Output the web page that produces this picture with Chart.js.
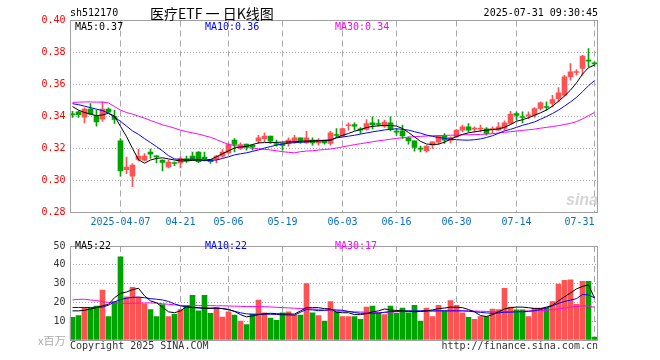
<!DOCTYPE html>
<html><head><meta charset="utf-8">
<script src="https://cdn.jsdelivr.net/npm/chart.js@4.4.1/dist/chart.umd.min.js"></script>
<style>
html,body{margin:0;padding:0;background:#fff;}
#wrap{position:relative;width:660px;height:360px;overflow:hidden;background:#fff;}
canvas{position:absolute;left:0;}
.t{position:absolute;white-space:pre;font-family:"DejaVu Sans Mono",monospace;font-size:10px;line-height:12px;}
</style></head><body>
<div id="wrap">
<canvas id="k" width="660" height="236" style="top:0px"></canvas>
<canvas id="v" width="660" height="124" style="top:236px"></canvas>
<div class="t" style="left:70px;top:7px;color:#000">sh512170</div>
<div class="t" style="left:150px;top:4px;font-family:'Noto Sans CJK SC';font-size:14px;line-height:18px;color:#000">医疗ETF 一 日K线图</div>
<div class="t" style="right:62px;top:7px;color:#000">2025-07-31 09:30:45</div>
<div class="t" id="l1" style="left:75px;top:21px;color:#000"></div>
<div class="t" id="l2" style="left:205px;top:21px;color:#0000ff"></div>
<div class="t" id="l3" style="left:335px;top:21px;color:#ff00ff"></div>
<div class="t" id="v1" style="left:75px;top:240px;color:#000"></div>
<div class="t" id="v2" style="left:205px;top:240px;color:#0000ff"></div>
<div class="t" id="v3" style="left:335px;top:240px;color:#ff00ff"></div>
<div class="t" style="left:38px;top:334px;font-family:'Noto Sans CJK SC';font-size:11px;line-height:13px;color:#aaa">x百万</div>
<div class="t" style="left:70px;top:340px;color:#333">Copyright 2025 SINA.COM</div>
<div class="t" style="right:62px;top:340px;color:#333">http://finance.sina.com.cn</div>
<div class="t" style="left:566px;top:191px;font-family:'Liberation Sans';font-style:italic;font-weight:bold;font-size:16px;line-height:18px;color:#d4d4d4">sina</div>
</div>
<script>
const dates = ['2025-03-25','2025-03-26','2025-03-27','2025-03-28','2025-03-31','2025-04-01','2025-04-02','2025-04-03',
'2025-04-07','2025-04-08','2025-04-09','2025-04-10','2025-04-11','2025-04-14','2025-04-15','2025-04-16','2025-04-17','2025-04-18',
'2025-04-21','2025-04-22','2025-04-23','2025-04-24','2025-04-25','2025-04-28','2025-04-29','2025-04-30',
'2025-05-06','2025-05-07','2025-05-08','2025-05-09','2025-05-12','2025-05-13','2025-05-14','2025-05-15','2025-05-16',
'2025-05-19','2025-05-20','2025-05-21','2025-05-22','2025-05-23','2025-05-26','2025-05-27','2025-05-28','2025-05-29','2025-05-30',
'2025-06-03','2025-06-04','2025-06-05','2025-06-06','2025-06-09','2025-06-10','2025-06-11','2025-06-12','2025-06-13',
'2025-06-16','2025-06-17','2025-06-18','2025-06-19','2025-06-20','2025-06-23','2025-06-24','2025-06-25','2025-06-26','2025-06-27',
'2025-06-30','2025-07-01','2025-07-02','2025-07-03','2025-07-04','2025-07-07','2025-07-08','2025-07-09','2025-07-10','2025-07-11',
'2025-07-14','2025-07-15','2025-07-16','2025-07-17','2025-07-18','2025-07-21','2025-07-22','2025-07-23','2025-07-24','2025-07-25',
'2025-07-28','2025-07-29','2025-07-30','2025-07-31'];

const tickDates  = ['2025-04-07','2025-04-21','2025-05-06','2025-05-19','2025-06-03','2025-06-16','2025-06-30','2025-07-14','2025-07-31'];
const tickLabels = ['2025-04-07','04-21','05-06','05-19','06-03','06-16','06-30','07-14','07-31     '];
const priceTicks = [0.28,0.30,0.32,0.34,0.36,0.38,0.40];
const volTicks = [10,20,30,40,50];

const open = [.3413,.3429,.3396,.3446,.3406,.3383,.3446,.3400,.3248,.3067,.3027,.3131,.3127,.3177,.3152,.3127,.3085,.3108,.3110,.3135,
.3152,.3177,.3146,.3131,.3131,.3152,.3173,.3252,.3200,.3227,.3221,.3246,.3262,.3277,.3231,.3231,.3231,.3246,.3267,.3235,
.3252,.3235,.3252,.3231,.3285,.3279,.3342,.3350,.3323,.3319,.3360,.3353,.3340,.3360,.3306,.3310,.3265,.3248,.3198,.3185,
.3221,.3240,.3279,.3250,.3273,.3315,.3335,.3321,.3321,.3323,.3319,.3315,.3325,.3356,.3419,.3396,.3404,.3408,.3450,.3460,
.3481,.3512,.3533,.3648,.3675,.3700,.3750,.3733];
const high = [.3433,.3436,.3454,.3481,.3440,.3491,.3454,.3440,.3262,.3146,.3106,.3196,.3169,.3196,.3155,.3129,.3127,.3117,.3148,.3152,
.3177,.3180,.3177,.3131,.3158,.3194,.3235,.3262,.3235,.3227,.3225,.3283,.3298,.3277,.3252,.3231,.3267,.3283,.3267,.3308,
.3267,.3262,.3252,.3308,.3325,.3329,.3360,.3360,.3331,.3381,.3398,.3381,.3377,.3398,.3325,.3346,.3273,.3248,.3215,.3219,
.3242,.3283,.3294,.3273,.3319,.3346,.3356,.3335,.3346,.3331,.3335,.3362,.3373,.3433,.3429,.3429,.3429,.3456,.3491,.3491,
.3533,.3581,.3658,.3731,.3694,.3783,.3825,.3742];
const low = [.3394,.3394,.3360,.3413,.3339,.3370,.3425,.3356,.3027,.3042,.2961,.3123,.3123,.3138,.3110,.3060,.3079,.3092,.3079,.3113,
.3127,.3112,.3123,.3106,.3110,.3144,.3169,.3179,.3194,.3190,.3190,.3231,.3242,.3231,.3215,.3190,.3215,.3231,.3231,.3231,
.3221,.3221,.3227,.3221,.3273,.3273,.3315,.3315,.3294,.3315,.3323,.3340,.3331,.3310,.3281,.3263,.3227,.3183,.3179,.3177,
.3200,.3227,.3231,.3235,.3267,.3304,.3304,.3304,.3304,.3283,.3294,.3315,.3315,.3352,.3377,.3360,.3387,.3394,.3440,.3440,
.3460,.3491,.3527,.3627,.3658,.3658,.3710,.3714];
const close = [.3410,.3412,.3446,.3415,.3366,.3446,.3427,.3381,.3060,.3084,.3096,.3152,.3152,.3165,.3148,.3113,.3115,.3106,.3137,.3123,
.3133,.3118,.3135,.3118,.3152,.3177,.3225,.3225,.3225,.3210,.3210,.3267,.3277,.3246,.3225,.3219,.3252,.3267,.3246,.3267,
.3235,.3252,.3235,.3298,.3281,.3325,.3348,.3340,.3315,.3356,.3348,.3350,.3365,.3319,.3302,.3279,.3248,.3206,.3196,.3215,
.3242,.3279,.3252,.3268,.3315,.3335,.3315,.3325,.3325,.3294,.3323,.3335,.3360,.3415,.3406,.3394,.3410,.3450,.3485,.3456,
.3506,.3548,.3648,.3679,.3679,.3777,.3746,.3729];

const ma5 = [.3462,.3440,.3425,.3415,.3405,.3410,.3420,.3403,.3338,.3275,.3200,.3130,.3108,.3128,.3138,.3142,.3135,.3128,.3122,.3123,
.3125,.3128,.3128,.3131,.3148,.3168,.3185,.3203,.3209,.3213,.3225,.3235,.3237,.3237,.3238,.3240,.3241,.3242,.3245,.3247,
.3248,.3249,.3250,.3253,.3269,.3282,.3294,.3308,.3318,.3331,.3338,.3342,.3344,.3344,.3340,.3325,.3300,.3272,.3245,.3228,
.3225,.3227,.3240,.3258,.3275,.3288,.3298,.3304,.3310,.3315,.3318,.3322,.3333,.3350,.3370,.3380,.3392,.3408,.3423,.3440,
.3465,.3495,.3528,.3565,.3610,.3665,.3705,.3722];
const ma10 = [.3480,.3474,.3465,.3455,.3446,.3437,.3420,.3395,.3370,.3340,.3310,.3288,.3262,.3237,.3212,.3185,.3155,.3135,.3132,.3132,
.3133,.3131,.3124,.3126,.3128,.3138,.3148,.3160,.3167,.3173,.3182,.3191,.3203,.3212,.3221,.3228,.3233,.3237,.3239,.3241,
.3245,.3247,.3250,.3252,.3266,.3272,.3277,.3283,.3290,.3297,.3304,.3310,.3316,.3320,.3323,.3320,.3315,.3305,.3296,.3284,
.3276,.3269,.3263,.3258,.3255,.3253,.3252,.3255,.3260,.3269,.3280,.3295,.3310,.3320,.3332,.3345,.3355,.3366,.3383,.3400,
.3419,.3440,.3465,.3491,.3520,.3555,.3592,.3625];
const ma30 = [.3488,.3490,.3491,.3491,.3490,.3490,.3485,.3462,.3440,.3425,.3415,.3402,.3390,.3375,.3362,.3348,.3338,.3327,.3315,.3305,
.3298,.3290,.3280,.3270,.3256,.3240,.3225,.3218,.3212,.3206,.3203,.3198,.3195,.3191,.3186,.3180,.3176,.3173,.3180,.3184,
.3186,.3190,.3194,.3197,.3203,.3210,.3217,.3224,.3230,.3236,.3242,.3248,.3253,.3258,.3263,.3267,.3271,.3274,.3276,.3278,
.3280,.3281,.3282,.3283,.3284,.3285,.3286,.3287,.3288,.3290,.3293,.3297,.3301,.3305,.3309,.3313,.3317,.3321,.3327,.3332,
.3337,.3343,.3350,.3357,.3368,.3385,.3405,.3425];

const volume = [12.0,13.0,17.2,16.8,18.0,26.5,12.5,20.5,44.2,23.0,28.0,22.8,19.2,16.2,12.5,18.8,12.5,13.7,16.2,18.3,
23.7,15.5,23.7,14.2,17.2,12.2,15.0,13.3,10.0,8.2,13.8,21.2,14.5,11.7,10.5,14.5,15.0,13.3,13.3,30.0,
14.5,13.0,10.0,20.5,15.0,12.5,12.5,12.5,11.0,17.5,18.0,14.2,13.5,18.0,14.2,17.0,14.5,18.5,10.0,17.0,
12.5,18.5,15.5,21.0,18.5,14.5,12.0,11.0,12.5,12.5,16.5,16.2,27.5,17.5,16.0,16.0,12.5,17.0,17.0,17.0,
20.5,29.7,31.7,32.0,19.0,31.2,31.2,1.5];
const vma5 = [15.5,15.5,15.8,16.5,17.2,18.2,19.0,22.5,24.8,25.5,26.8,27.5,23.5,20.8,19.8,17.5,15.0,14.5,15.5,17.8,
17.3,17.2,16.8,16.8,17.0,16.7,16.2,15.2,13.5,12.3,12.8,13.5,14.0,14.2,14.0,13.8,13.8,13.8,15.5,17.2,
17.2,17.2,16.7,16.5,14.8,14.5,14.5,13.5,13.5,14.0,15.0,15.5,16.5,16.0,15.7,15.5,15.3,15.0,15.2,15.5,
16.0,16.7,17.0,17.5,17.4,17.2,16.2,15.0,13.0,12.5,13.5,15.0,16.5,17.2,17.5,17.5,17.2,16.7,16.7,17.5,
18.5,20.8,23.0,25.0,27.2,28.5,29.3,22.3];
const vma10 = [17.3,17.3,17.3,17.3,17.4,17.5,18.5,20.3,21.5,22.2,22.7,22.8,22.5,22.0,21.7,21.3,20.5,19.2,18.2,17.5,
17.3,17.0,17.0,17.0,16.9,16.7,16.2,15.3,14.5,13.9,13.7,13.7,13.7,13.7,13.6,13.4,13.3,13.2,14.8,16.2,
16.0,15.6,15.8,16.2,16.0,15.8,15.2,14.6,14.2,14.2,14.2,14.3,14.8,15.1,15.2,15.4,15.5,15.5,15.5,15.5,
15.5,15.5,15.5,15.5,15.5,15.5,15.3,15.0,14.7,14.4,14.2,14.4,14.8,14.8,15.0,15.0,15.2,15.6,16.2,17.0,
18.2,19.5,20.5,21.2,22.0,24.2,24.0,22.4];
const vma30 = [21.3,21.6,21.7,21.3,21.0,20.4,20.0,19.7,19.5,19.5,19.5,19.6,19.7,19.7,19.6,19.3,19.0,18.7,18.4,18.3,
18.3,18.3,18.3,18.3,18.2,18.2,18.1,18.0,17.9,17.8,17.8,17.8,17.7,17.6,17.4,17.2,17.1,16.9,16.7,16.6,
16.5,16.2,15.9,15.6,15.5,15.3,15.2,15.0,14.9,14.8,14.7,14.6,14.6,14.8,15.0,15.1,15.2,15.3,15.3,15.4,
15.4,15.5,15.5,15.5,15.5,15.5,15.5,15.4,15.3,15.2,15.0,15.0,15.0,15.0,15.2,15.3,15.5,15.5,15.6,15.8,
16.2,16.6,17.0,17.5,17.8,18.2,18.0,17.4];

const priceMin = priceTicks[0], priceMax = priceTicks[priceTicks.length-1];
const RED = '#ff5252', GREEN = '#00a400', GRID = '#a8a8a8', BORDER = '#a0a0a0';
const upColors = close.map((c,i) => c >= open[i] ? RED : GREEN);
const volColors = upColors;
const n = dates.length;
const last = n - 1;

document.getElementById('l1').textContent = 'MA5:' + ma5[last].toFixed(2);
document.getElementById('l2').textContent = 'MA10:' + ma10[last].toFixed(2);
document.getElementById('l3').textContent = 'MA30:' + ma30[last].toFixed(2);
document.getElementById('v1').textContent = 'MA5:' + vma5[last].toFixed(0);
document.getElementById('v2').textContent = 'MA10:' + vma10[last].toFixed(0);
document.getElementById('v3').textContent = 'MA30:' + vma30[last].toFixed(0);

const tickMap = {};
tickDates.forEach((d,i) => tickMap[d] = tickLabels[i]);
const isTick = idx => tickMap[dates[idx]] !== undefined;

const font = {family:'DejaVu Sans Mono', size:10};

const boxPlugin = {
  id:'box',
  afterDraw(chart){
    const a = chart.chartArea, c = chart.ctx;
    const x0 = Math.round(a.left)+0.5, x1 = Math.round(a.right)-0.5;
    const y0 = Math.floor(a.top)+0.5, y1 = Math.floor(a.bottom)+0.5;
    c.save();
    c.strokeStyle = BORDER; c.lineWidth = 1;
    c.strokeRect(x0, y0, x1-x0, y1-y0);
    c.restore();
  }
};

const xScaleCommon = (showTicks, h, pad) => ({
  type:'category',
  offset:true,
  grid:{offset:false, drawTicks:false, lineWidth:1,
        color: ctx => isTick(ctx.index) ? GRID : 'rgba(0,0,0,0)'},
  border:{display:false, dash:[6,4]},
  ticks:{display:showTicks, autoSkip:false, maxRotation:0, minRotation:0, padding:pad, font, color:'#0a6fc0',
         callback(v, idx){ const l = tickMap[dates[idx]]; return l === undefined ? '' : l; }},
  afterFit(s){ s.height = h; }
});

new Chart(document.getElementById('k'), {
  type:'bar',
  data:{
    labels: dates,
    datasets:[
      {type:'line', data:ma5, borderColor:'#000000', borderWidth:1, pointRadius:0, tension:0, order:0},
      {type:'line', data:ma10, borderColor:'#0000ff', borderWidth:1, pointRadius:0, tension:0, order:0},
      {type:'line', data:ma30, borderColor:'#ff00ff', borderWidth:1, pointRadius:0, tension:0, order:0},
      {type:'bar', data: open.map((o,i)=>[o, close[i]]), backgroundColor:upColors, borderWidth:0,
       barThickness:5, minBarLength:1, grouped:false, order:1},
      {type:'bar', data: low.map((l,i)=>[l, high[i]]), backgroundColor:upColors, borderWidth:0,
       barThickness:1, minBarLength:1, grouped:false, order:2}
    ]
  },
  options:{
    responsive:false, animation:false, devicePixelRatio:1,
    layout:{padding:{left:0, right:62.5, top:20.5, bottom:0}},
    plugins:{legend:{display:false}, tooltip:{enabled:false}},
    scales:{
      x: xScaleCommon(true, 23.5, 4),
      y:{
        min:priceMin, max:priceMax,
        afterBuildTicks(s){ s.ticks = priceTicks.map(v=>({value:v})); },
        afterFit(s){ s.width = 69.5; },
        grid:{drawTicks:false, lineWidth:1,
              color: ctx => (ctx.tick && (ctx.tick.value===priceMin || ctx.tick.value===priceMax)) ? 'rgba(0,0,0,0)' : GRID},
        border:{display:false, dash:[1,2]},
        ticks:{font, color:'#ff0000', padding:4, callback:v=>Number(v).toFixed(2)}
      }
    }
  },
  plugins:[boxPlugin]
});

new Chart(document.getElementById('v'), {
  type:'bar',
  data:{
    labels: dates,
    datasets:[
      {type:'line', data:vma5, borderColor:'#000000', borderWidth:1, pointRadius:0, tension:0, order:0},
      {type:'line', data:vma10, borderColor:'#0000ff', borderWidth:1, pointRadius:0, tension:0, order:0},
      {type:'line', data:vma30, borderColor:'#ff00ff', borderWidth:1, pointRadius:0, tension:0, order:0},
      {type:'bar', data:volume, backgroundColor:volColors, borderWidth:0, barThickness:5, grouped:false, order:1}
    ]
  },
  options:{
    responsive:false, animation:false, devicePixelRatio:1,
    layout:{padding:{left:0, right:62.5, top:4.5, bottom:20}},
    plugins:{legend:{display:false}, tooltip:{enabled:false}},
    scales:{
      x: xScaleCommon(false, 0, 0),
      y:{
        min:0, max:50,
        afterBuildTicks(s){ s.ticks = [0, ...volTicks].map(v=>({value:v})); },
        afterFit(s){ s.width = 69.5; },
        grid:{drawTicks:false, lineWidth:1,
              color: ctx => (ctx.tick && (ctx.tick.value===0 || ctx.tick.value===50)) ? 'rgba(0,0,0,0)' : GRID},
        border:{display:false, dash:[1,2]},
        ticks:{font, color:'#333333', padding:4, callback:v=> v===0 ? '' : String(v)}
      }
    }
  },
  plugins:[boxPlugin]
});
</script>
</body></html>
